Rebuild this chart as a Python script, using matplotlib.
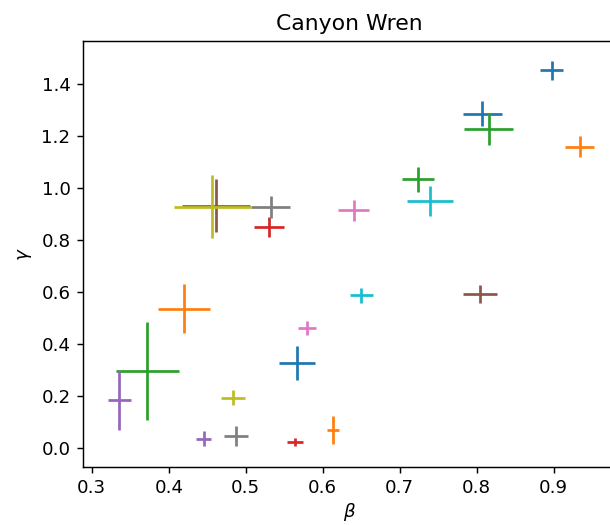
import matplotlib
matplotlib.use("Agg")
import matplotlib.pyplot as plt

# data: (beta, gamma, beta error, gamma error), plotted in tab10 color cycle order
beta = [0.5666, 0.4195, 0.3718, 0.5300, 0.3359, 0.4614, 0.5796, 0.5325, 0.4566, 0.7390,
        0.8073, 0.6138, 0.8156, 0.5636, 0.4454, 0.8043, 0.6400, 0.4878, 0.4835, 0.6500,
        0.8974, 0.9340, 0.7238]
gamma = [0.328, 0.535, 0.297, 0.851, 0.183, 0.932, 0.460, 0.927, 0.928, 0.951,
         1.285, 0.069, 1.227, 0.023, 0.036, 0.592, 0.914, 0.046, 0.194, 0.587,
         1.453, 1.159, 1.033]
beta_err = [0.0232, 0.0335, 0.0410, 0.0195, 0.0150, 0.0440, 0.0115, 0.0255, 0.0498, 0.0296,
            0.0251, 0.0078, 0.0318, 0.0106, 0.0100, 0.0227, 0.0203, 0.0156, 0.0160, 0.0150,
            0.0147, 0.0190, 0.0212]
gamma_err = [0.066, 0.094, 0.189, 0.038, 0.113, 0.102, 0.027, 0.043, 0.120, 0.057,
             0.048, 0.0525, 0.062, 0.017, 0.030, 0.036, 0.040, 0.040, 0.029, 0.028,
             0.037, 0.039, 0.047]

title = "Canyon Wren"

dpi = 131
fig = plt.figure(figsize=(610 / dpi, 525 / dpi), dpi=dpi)
ax = fig.add_axes([0.1366, 0.111, 0.8733, 0.8103])

for i in range(len(beta)):
    ax.errorbar(beta[i], gamma[i], xerr=beta_err[i], yerr=gamma_err[i],
                fmt='none', ecolor=f"C{i % 10}")

ax.set_xlim(0.289, 0.981)
ax.set_ylim(-0.072, 1.564)
ax.set_xticks([0.3, 0.4, 0.5, 0.6, 0.7, 0.8, 0.9])
ax.set_yticks([0.0, 0.2, 0.4, 0.6, 0.8, 1.0, 1.2, 1.4])
ax.set_xlabel(r"$\beta$", labelpad=2)
ax.set_ylabel(r"$\gamma$")
ax.set_title(title)

fig.savefig("out.png", dpi=dpi)
